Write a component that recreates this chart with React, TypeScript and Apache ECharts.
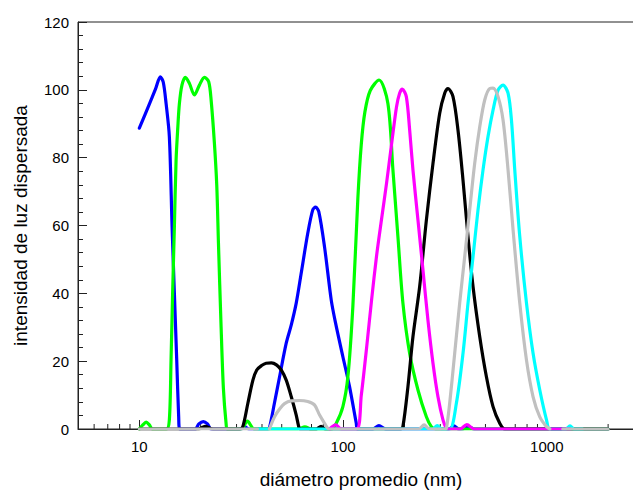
import { useEffect, useRef } from 'react';
import * as echarts from 'echarts';

type Pt = [number, number | null];

// Intensity distributions by mean diameter (nm); one curve per sample.
const azul: Pt[] = [
  [10, 88.7], [11.2, 95.8], [12.0, 100.2], [12.68, 103.8], [13.1, 102.3], [13.53, 96.0],
  [14.04, 86.2], [14.48, 59.6], [14.86, 40.1], [15.26, 20.3], [15.6, 3.6], [15.8, 0],
  [18.8, 0], [19.6, 1.5], [20.6, 2.2], [21.6, 1.5], [22.5, 0],
  [31.5, 0], [33, 0.6], [34.5, 0],
  [42.8, 0], [43.5, 0.3], [46, 7.5], [48.8, 15.4], [52.6, 25.3], [55.7, 30.7], [58.9, 37.1],
  [62.3, 45.9], [67.1, 57.7], [71, 64.6], [73.3, 65.4], [76, 64.1], [81.1, 53.7],
  [87.5, 38.0], [91.9, 31.2], [99.8, 21.3], [107.6, 12.5], [116.1, 1.7], [117.8, 0],
  [140, 0], [150, 1.0], [162, 0], [330, 0], [350, 0.9], [370, 0], [385, 0], [410, 0.8], [440, 0],
  [2000, 0],
];

const verde: Pt[] = [
  [10, 0], [10.4, 1.2], [10.8, 2.0], [11.2, 1.2], [11.6, 0],
  [13.57, 0], [14.04, 2.7], [14.31, 20.3], [14.57, 40.1], [14.86, 59.6], [15.15, 79.3],
  [15.45, 89], [15.73, 96.0], [16.19, 101.4], [16.83, 103.7], [17.61, 101.9], [18.63, 98.5],
  [19.72, 101.4], [20.87, 103.7], [21.9, 102.4], [22.51, 97.0], [23.36, 84.3], [23.99, 71.9],
  [24.45, 55], [25.2, 30], [25.86, 12], [26.67, 1.5], [27.06, 0],
  [31.6, 0], [33.9, 2.3], [36.7, 0],
  [60, 0], [65, 0.6], [70, 0],
  [87.5, 0], [92.6, 1.7], [99.8, 6.6], [105.6, 15.4], [111.7, 36.1], [118.2, 68],
  [122.9, 84], [128, 93.5], [136, 99.8], [150.3, 102.9], [166, 96.0], [175.7, 76.4],
  [185.9, 56.7], [196.7, 37.1], [212.3, 22.3], [233.2, 11.5], [256.4, 3.6], [271.3, 0.7],
  [285, 0], [2000, 0],
];

const negro: Pt[] = [
  [10, 0], [19.5, 0], [21, 0.8], [23, 0],
  [31, 0], [32.2, 0.7], [34.1, 7.6], [36.1, 14.4], [37.7, 17.4], [39.8, 18.7], [41.9, 19.4],
  [44.5, 19.5], [47.1, 18.9], [49.7, 17.4], [52.6, 14.4], [55.7, 9.5], [58.9, 4.1],
  [60.6, 0.7], [61.6, 0],
  [74, 0], [78, 0.8], [82, 0],
  [191.7, 0], [196.7, 0.7], [208.2, 12.5], [220.3, 27.2], [237.7, 42.0], [256.4, 61.6],
  [276.3, 78.3], [298.1, 93.1], [315.4, 99.0], [327.3, 100.4], [346.4, 98.0], [366.6, 88.1],
  [387.9, 73.4], [410.5, 56.7], [434.4, 42.0], [468.7, 27.2], [505.4, 15.4], [544.6, 6.6],
  [587.5, 1.7], [621.7, 0], [2000, 0],
];

const cian: Pt[] = [
  [38.5, 0], [275, 0], [290, 1.0], [305, 0],
  [333.7, 0], [359.9, 7.6], [387.9, 22.3], [410.5, 37.1], [434.4, 50.8], [459.6, 64.6],
  [486.4, 76.4], [514.6, 86.2], [544.6, 94.0], [576.4, 99.9], [609.9, 101.4], [645.4, 99.0],
  [670.7, 91.1], [696.3, 76.4], [736.9, 56.7], [794.9, 37.1], [856.3, 22.3], [923.8, 11.5],
  [996.6, 2.7], [1035, 0], [1240, 0], [1300, 0.9], [1360, 0], [1500, 0],
];

const magenta: Pt[] = [
  [86, 0], [92, 1.2], [98, 0],
  [116.5, 0], [122.9, 10], [130.5, 24], [138, 38], [146, 51], [154.6, 62], [163.5, 72.5],
  [173, 84], [183, 95], [189.5, 99], [195.4, 100.2], [204.4, 98.0], [212.3, 88.1],
  [220.3, 76.4], [233.2, 61.6], [246.7, 46.9], [261, 32.1], [276.3, 19.4], [292.3, 9.5],
  [309.3, 2.7], [321.5, 0.2], [330, 0],
  [375, 0], [405, 1.3], [440, 0], [1300, 0],
];

const gris: Pt[] = [
  [10, 0], [38, 0], [40.5, null],
  [43.5, 0], [46.1, 3.6], [48.8, 5.9], [51.6, 7.5], [55.7, 8.3], [61.1, 8.4], [67.1, 8.1],
  [72.4, 7.1], [76.7, 4.1], [81.1, 1.7], [84.2, 0.2], [87, 0],
  [235, 0], [250, 1.2], [265, 0],
  [315.4, 0], [321.5, 0.2], [333.7, 7.6], [353.1, 22.3], [373.6, 37.1], [395.4, 50.8],
  [418.3, 64.6], [442.7, 78.3], [468.7, 89.1], [495.8, 97.0], [524.8, 100.4], [544.6, 100.5],
  [576.4, 98.0], [609.9, 91.1], [645.4, 76.4], [683.1, 58.7], [736.9, 37.1], [794.9, 20.3],
  [856.3, 9.5], [923.8, 3.6], [996.6, 0.7], [1035, 0], [1100, null],
  [1198, 0], [2000, 0],
];

const marcasMayores = [10, 100, 1000];
const marcasMenores = [6, 7, 8, 9, 20, 30, 40, 50, 60, 70, 80, 90, 200, 300, 400, 500, 600, 700, 800, 900, 2000, 3000];

const curvas: { datos: Pt[]; color: string }[] = [
  { datos: azul, color: '#0000ff' },
  { datos: verde, color: '#00ff00' },
  { datos: negro, color: '#000000' },
  { datos: cian, color: '#00ffff' },
  { datos: magenta, color: '#ff00ff' },
  { datos: gris, color: '#c0c0c0' },
];

const FUENTE = '"Liberation Sans", Arial, Helvetica, sans-serif';
const EJE = '#222222';

export default function App() {
  const ref = useRef<HTMLDivElement>(null);

  useEffect(() => {
    if (!ref.current) return;
    const chart = echarts.init(ref.current, null, { renderer: 'svg' });

    chart.setOption({
      animation: false,
      backgroundColor: '#ffffff',
      textStyle: { fontFamily: FUENTE },
      grid: {
        left: 78,
        top: 22,
        right: -11,
        bottom: 61,
        show: true,
        borderColor: EJE,
        borderWidth: 1,
        containLabel: false,
        outerBoundsMode: 'none',
      },
      xAxis: {
        type: 'log',
        logBase: 10,
        min: 5,
        max: 3000,
        name: 'diámetro promedio (nm)',
        nameLocation: 'middle',
        nameGap: 41,
        nameTextStyle: { fontSize: 19, color: '#000', fontFamily: FUENTE },
        axisLine: { show: true, lineStyle: { color: EJE, width: 1 } },
        axisTick: { show: true, inside: true, length: 9, lineStyle: { color: EJE } },
        axisLabel: {
          fontSize: 15,
          color: '#000',
          margin: 10,
          fontFamily: FUENTE,
          showMinLabel: false,
          showMaxLabel: false,
          formatter: (v: number) => {
            const m = marcasMayores.find((t) => Math.abs(t - v) / t < 1e-6);
            return m ? String(m) : '';
          },
        },
        splitLine: { show: false },
        minorTick: { show: false },
      },
      yAxis: {
        type: 'value',
        min: 0,
        max: 120,
        interval: 20,
        name: 'intensidad de luz dispersada',
        nameLocation: 'middle',
        nameGap: 48,
        nameTextStyle: { fontSize: 19, color: '#000', fontFamily: FUENTE },
        axisLine: { show: true, lineStyle: { color: EJE, width: 1 } },
        axisTick: { show: true, inside: true, length: 9, lineStyle: { color: EJE } },
        minorTick: { show: true, splitNumber: 5, length: 5, lineStyle: { color: EJE } },
        axisLabel: { fontSize: 15, color: '#000', margin: 9, fontFamily: FUENTE },
        splitLine: { show: false },
      },
      series: [
        {
          type: 'custom',
          coordinateSystem: 'cartesian2d',
          silent: true,
          z: 1,
          clip: false,
          data: marcasMenores.map((v) => [v, 0]),
          renderItem: (_p: any, api: any) => {
            const pt = api.coord([api.value(0), 0]);
            return {
              type: 'line',
              shape: { x1: pt[0], y1: pt[1], x2: pt[0], y2: pt[1] - 5 },
              style: { stroke: EJE, lineWidth: 1 },
            };
          },
        },
        ...curvas.map((c, i) => ({
          type: 'line',
          data: c.datos,
          showSymbol: false,
          symbol: 'none',
          smooth: 0.3,
          connectNulls: false,
          z: 2 + i,
          lineStyle: { color: c.color, width: 3.2, cap: 'round', join: 'round' },
          itemStyle: { color: c.color },
        })),
      ],
    });

    return () => chart.dispose();
  }, []);

  return (
    <div
      ref={ref}
      style={{ position: 'fixed', left: 0, top: 0, width: 633, height: 490, background: '#fff' }}
    />
  );
}
